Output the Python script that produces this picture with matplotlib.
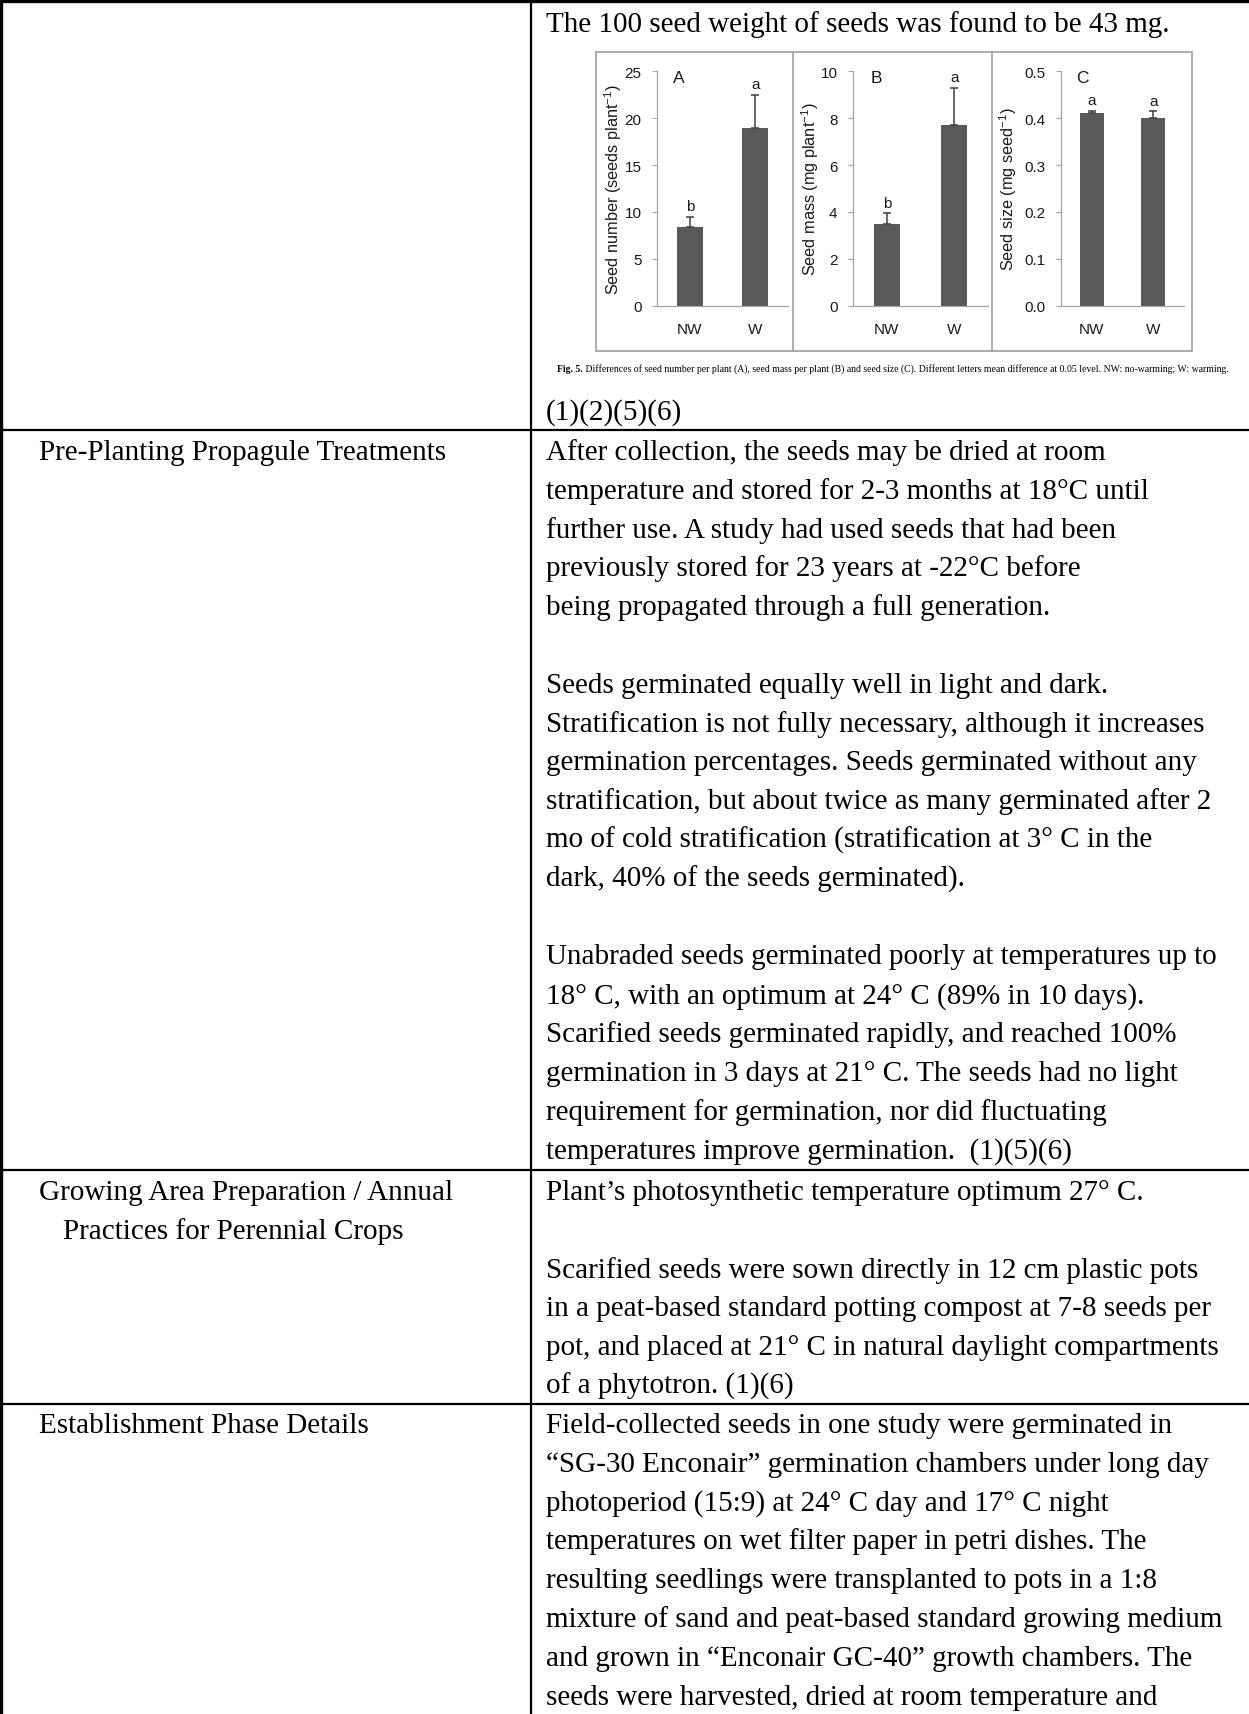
import matplotlib
matplotlib.use('Agg')
import matplotlib.pyplot as plt
import numpy as np
from matplotlib.patches import Rectangle

plt.rcParams['font.family'] = ['Liberation Serif', 'DejaVu Serif']
plt.rcParams['mathtext.default'] = 'regular'

# ---- chart data (Fig. 5) ----
groups = ['NW', 'W']
seed_number = [8.4, 19.0]
seed_number_err = [1.1, 3.5]
seed_mass = [3.5, 7.7]
seed_mass_err = [0.44, 1.59]
seed_size = [0.41, 0.40]
seed_size_err = [0.006, 0.015]
letters_a = ['b', 'a']
letters_b = ['b', 'a']
letters_c = ['a', 'a']
ticks_a = [0, 5, 10, 15, 20, 25]
ticks_b = [0, 2, 4, 6, 8, 10]
ticks_c = [0.0, 0.1, 0.2, 0.3, 0.4, 0.5]

# ---- table text ----
row1_top = "The 100 seed weight of seeds was found to be 43 mg."
row1_ref = "(1)(2)(5)(6)"
caption_bold = "Fig. 5."
caption_rest = (" Differences of seed number per plant (A), seed mass per plant (B) and seed size (C). "
                "Different letters mean difference at 0.05 level. NW: no-warming; W: warming.")

row2_left = ["Pre-Planting Propagule Treatments"]
row2_right = [
    "After collection, the seeds may be dried at room",
    "temperature and stored for 2-3 months at 18°C until",
    "further use. A study had used seeds that had been",
    "previously stored for 23 years at -22°C before",
    "being propagated through a full generation.",
    "",
    "Seeds germinated equally well in light and dark.",
    "Stratification is not fully necessary, although it increases",
    "germination percentages. Seeds germinated without any",
    "stratification, but about twice as many germinated after 2",
    "mo of cold stratification (stratification at 3° C in the",
    "dark, 40% of the seeds germinated).",
    "",
    "Unabraded seeds germinated poorly at temperatures up to",
    "18° C, with an optimum at 24° C (89% in 10 days).",
    "Scarified seeds germinated rapidly, and reached 100%",
    "germination in 3 days at 21° C. The seeds had no light",
    "requirement for germination, nor did fluctuating",
    "temperatures improve germination.  (1)(5)(6)",
]
row3_left = ["Growing Area Preparation / Annual", "Practices for Perennial Crops"]
row3_right = [
    "Plant\u2019s photosynthetic temperature optimum 27° C.",
    "",
    "Scarified seeds were sown directly in 12 cm plastic pots",
    "in a peat-based standard potting compost at 7-8 seeds per",
    "pot, and placed at 21° C in natural daylight compartments",
    "of a phytotron. (1)(6)",
]
row4_left = ["Establishment Phase Details"]
row4_right = [
    "Field-collected seeds in one study were germinated in",
    "\u201cSG-30 Enconair\u201d germination chambers under long day",
    "photoperiod (15:9) at 24° C day and 17° C night",
    "temperatures on wet filter paper in petri dishes. The",
    "resulting seedlings were transplanted to pots in a 1:8",
    "mixture of sand and peat-based standard growing medium",
    "and grown in \u201cEnconair GC-40\u201d growth chambers. The",
    "seeds were harvested, dried at room temperature and",
]

W, H = 1249, 1715
fig = plt.figure(figsize=(W / 100, H / 100), dpi=100)
bg = fig.add_axes([0, 0, 1, 1])
bg.set_xlim(0, W)
bg.set_ylim(H, 0)
bg.axis('off')

# table borders
bg.plot([0, W], [1.5, 1.5], color='black', lw=2.4, solid_capstyle='butt')
bg.plot([1.5, 1.5], [0, H], color='black', lw=2.4, solid_capstyle='butt')
bg.plot([531, 531], [0, H], color='black', lw=1.6, solid_capstyle='butt')
for yy in [431, 1171, 1405]:
    bg.plot([0, W], [yy, yy], color='black', lw=1.6, solid_capstyle='butt')

fs = 21
step = 38.8
def put_lines(lines, x, y0):
    for i, s in enumerate(lines):
        if s:
            bg.text(x, y0 + i * step, s, fontsize=fs, ha='left', va='baseline', color='black')

put_lines([row1_top], 546, 32)
put_lines([row1_ref], 546, 420)
put_lines(row2_left, 39, 460)
put_lines(row2_right, 546, 460)
bg.text(39, 1200, row3_left[0], fontsize=fs, va='baseline')
bg.text(63, 1200 + step, row3_left[1], fontsize=fs, va='baseline')
put_lines(row3_right, 546, 1200)
put_lines(row4_left, 39, 1433)
put_lines(row4_right, 546, 1433)

# caption, fitted to its width in the picture
cap_fs = 6.8
renderer = fig.canvas.get_renderer()
t1 = bg.text(557, 369, caption_bold, fontsize=cap_fs, fontweight='bold', va='center')
t2 = bg.text(557, 369, caption_rest, fontsize=cap_fs, va='center')
w1 = t1.get_window_extent(renderer).width
w2 = t2.get_window_extent(renderer).width
k = 673.0 / (w1 + w2)
t1.set_fontsize(cap_fs * k)
t2.set_fontsize(cap_fs * k)
w1 = t1.get_window_extent(renderer).width
t2.set_x(557 + w1)

# figure frame
bg.add_patch(Rectangle((596, 53), 1192 - 596, 352 - 53, fill=False, edgecolor='#a0a0a0', lw=1.2))
for xx in [793, 992]:
    bg.plot([xx, xx], [53, 352], color='#a0a0a0', lw=1.2)

sans = ['Liberation Sans', 'DejaVu Sans']
axis_grey = '#a6a6a6'
ink = '#1a1a1a'

def panel(px, means, errs, letters, ticks, fmt, ylabel, tag, lab_x):
    x0, y0, x1, y1 = px
    ax = fig.add_axes([x0 / W, 1 - y1 / H, (x1 - x0) / W, (y1 - y0) / H])
    ax.patch.set_alpha(0)
    xs = np.arange(len(groups))
    ax.bar(xs, means, width=0.39, color='#595959', zorder=2)
    ax.errorbar(xs, means, yerr=[np.zeros(len(errs)), errs], fmt='none',
                ecolor='#404040', elinewidth=1.1, capsize=3, capthick=1.1, zorder=3)
    for x, m, e, l in zip(xs, means, errs, letters):
        ax.annotate(l, (x, m + e), xytext=(0, 2.5), textcoords='offset points',
                    ha='center', va='bottom', fontsize=11, family=sans, color=ink)
    ax.set_xlim(-0.5, 1.5)
    ax.set_ylim(0, ticks[-1])
    ax.set_yticks(ticks)
    ax.set_yticklabels([fmt % t for t in ticks], family=sans, fontsize=11, color=ink)
    ax.set_xticks(xs)
    ax.set_xticklabels(groups, family=sans, fontsize=11, color=ink)
    ax.tick_params(axis='y', length=3.6, width=0.8, color=axis_grey, pad=7.5)
    ax.tick_params(axis='x', length=0, pad=11.5)
    for sp in ['top', 'right']:
        ax.spines[sp].set_visible(False)
    for sp in ['left', 'bottom']:
        ax.spines[sp].set_color(axis_grey)
        ax.spines[sp].set_linewidth(0.9)
    ax.set_ylabel(ylabel, family=sans, fontsize=11.7, color=ink)
    ax.yaxis.set_label_coords(lab_x, 0.5)
    ax.text(0.17, 0.975, tag, transform=ax.transAxes, family=sans, fontsize=12.5,
            ha='center', va='center', color=ink)
    return ax

panel((657, 72.3, 788, 306.7), seed_number, seed_number_err, letters_a, ticks_a, '%d',
      'Seed number (seeds plant$^{-1}$)', 'A', -0.25)
panel((853, 72.3, 988, 306.7), seed_mass, seed_mass_err, letters_b, ticks_b, '%d',
      'Seed mass (mg plant$^{-1}$)', 'B', -0.24)
panel((1061, 72.3, 1184, 306.7), seed_size, seed_size_err, letters_c, ticks_c, '%.1f',
      'Seed size (mg seed$^{-1}$)', 'C', -0.34)

fig.savefig('out.png', dpi=100)
